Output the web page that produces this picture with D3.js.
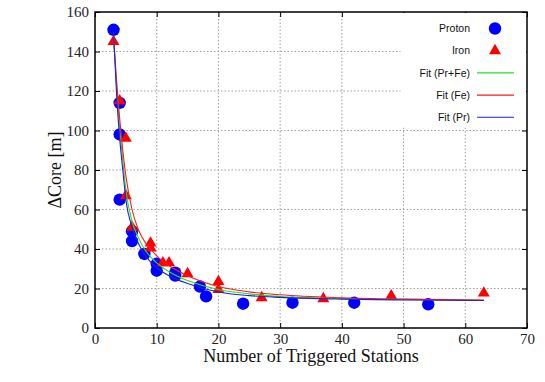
<!DOCTYPE html>
<html>
<head>
<meta charset="utf-8">
<script src="https://cdn.jsdelivr.net/npm/d3@7"></script>
<style>
  body { margin: 0; background: #fff; }
  svg { display: block; }
</style>
</head>
<body>
<div id="chart"></div>
<script>
// ---- data ----
var protonX = [3, 4, 4, 4, 6, 6, 8, 10, 10, 13, 13, 17, 18, 24, 32, 42, 54];
var protonY = [151, 114, 98, 65, 49, 44, 37.5, 32.5, 29, 28, 26.5, 21, 16, 12.3, 12.8, 12.8, 12];

var ironX = [3, 4, 5, 5, 6, 9, 9, 11, 12, 15, 20, 20, 27, 37, 48, 63];
var ironY = [145, 115, 96, 67, 51, 43, 40.5, 33, 33, 27.5, 23.5, 19.5, 15.3, 14.8, 16.3, 17.7];

// fit curves
var fitX   = [3, 3.5, 4, 4.5, 5, 6, 7, 8, 9, 10, 12, 15, 20, 25, 30, 40, 50, 63];
var fitAll = [148, 122, 101, 85, 70, 54, 46, 40, 36, 33, 28.5, 24, 19.5, 17.3, 15.9, 15, 14.5, 14.0];
var fitFe  = [147, 125, 106, 90, 77, 60, 50, 44, 40, 36.5, 31.5, 26.5, 21, 18.3, 16.8, 15.3, 14.6, 14.1];
var fitPr  = [150, 118, 96, 80, 65, 51, 43, 37.5, 33.5, 30.5, 26.5, 22.5, 18.2, 16.4, 15.5, 14.6, 14.2, 13.9];

var xTicks = [0, 10, 20, 30, 40, 50, 60, 70];
var yTicks = [0, 20, 40, 60, 80, 100, 120, 140, 160];

var legendLabels = ["Proton", "Iron", "Fit (Pr+Fe)", "Fit (Fe)", "Fit (Pr)"];

// ---- layout ----
var width = 545, height = 382;
var margin = {top: 12, right: 18, bottom: 54, left: 95};
var w = width - margin.left - margin.right;
var h = height - margin.top - margin.bottom;

var svg = d3.select("#chart").append("svg")
    .attr("width", width)
    .attr("height", height);

var g = svg.append("g")
    .attr("transform", "translate(" + margin.left + "," + margin.top + ")");

var x = d3.scaleLinear().domain([0, 70]).range([0, w]);
var y = d3.scaleLinear().domain([0, 160]).range([h, 0]);

svg.append("defs").append("clipPath").attr("id", "plotclip")
  .append("rect").attr("width", w).attr("height", h);

// grid
g.append("g").selectAll("line").data(xTicks.slice(1, -1)).enter().append("line")
    .attr("x1", function(d) { return x(d); })
    .attr("x2", function(d) { return x(d); })
    .attr("y1", 0).attr("y2", h)
    .attr("stroke", "#a0a0a0").attr("stroke-dasharray", "1.5,2").attr("stroke-width", 1);
g.append("g").selectAll("line").data(yTicks.slice(1, -1)).enter().append("line")
    .attr("y1", function(d) { return y(d); })
    .attr("y2", function(d) { return y(d); })
    .attr("x1", 0).attr("x2", w)
    .attr("stroke", "#a0a0a0").attr("stroke-dasharray", "1.5,2").attr("stroke-width", 1);

// axes (ticks pointing inward, mirrored)
var serif = "'Liberation Serif', 'DejaVu Serif', serif";

var xAxis = g.append("g").attr("transform", "translate(0," + h + ")")
    .call(d3.axisBottom(x).tickValues(xTicks).tickSizeInner(-5).tickSizeOuter(0).tickPadding(5));
var yAxis = g.append("g")
    .call(d3.axisLeft(y).tickValues(yTicks).tickSizeInner(-5).tickSizeOuter(0).tickPadding(6));
g.append("g").attr("class", "mirror")
    .call(d3.axisTop(x).tickValues(xTicks).tickSizeInner(-5).tickSizeOuter(0).tickFormat(""));
g.append("g").attr("class", "mirror").attr("transform", "translate(" + w + ",0)")
    .call(d3.axisRight(y).tickValues(yTicks).tickSizeInner(-5).tickSizeOuter(0).tickFormat(""));

g.selectAll(".domain").remove();
g.selectAll(".tick line").attr("stroke", "#000").attr("stroke-width", 1);
g.selectAll(".tick text").attr("font-family", serif).attr("font-size", 15).attr("fill", "#222");

// legend backdrop hides the grid behind the key
g.append("rect")
    .attr("x", x(49.5)).attr("y", 1)
    .attr("width", w - x(49.5) - 1).attr("height", y(101.5) - 1)
    .attr("fill", "#fff");

// data points
var pts = g.append("g").attr("clip-path", "url(#plotclip)");
var tri = d3.symbol().type(d3.symbolTriangle).size(62);

pts.selectAll("circle.pr").data(protonX).enter().append("circle")
    .attr("class", "pr")
    .attr("cx", function(d) { return x(d); })
    .attr("cy", function(d, i) { return y(protonY[i]); })
    .attr("r", 6.2)
    .attr("fill", "#0000ff");

pts.selectAll("path.fe").data(ironX).enter().append("path")
    .attr("class", "fe")
    .attr("d", tri)
    .attr("transform", function(d, i) { return "translate(" + x(d) + "," + y(ironY[i]) + ")"; })
    .attr("fill", "#ff0000");

// fit curves
var line = d3.line()
    .x(function(d) { return x(d[0]); })
    .y(function(d) { return y(d[1]); })
    .curve(d3.curveMonotoneX);

var fits = [
  {vals: fitAll, color: "#22e022"},
  {vals: fitFe,  color: "#ff1a1a"},
  {vals: fitPr,  color: "#2020e0"}
];
fits.forEach(function(f) {
  pts.append("path")
      .datum(fitX.map(function(v, i) { return [v, f.vals[i]]; }))
      .attr("d", line)
      .attr("fill", "none")
      .attr("stroke", f.color)
      .attr("stroke-width", 1.1);
});

// frame
g.append("rect").attr("width", w).attr("height", h)
    .attr("fill", "none").attr("stroke", "#000").attr("stroke-width", 1.5);

// legend
var lg = g.append("g").attr("transform", "translate(" + (470 - margin.left) + "," + (28.5 - margin.top) + ")");
legendLabels.forEach(function(lab, i) {
  var row = lg.append("g").attr("transform", "translate(0," + (i * 22.2) + ")");
  row.append("text")
      .attr("text-anchor", "end")
      .attr("dy", "0.36em")
      .attr("font-family", "'Liberation Sans', Arial, sans-serif")
      .attr("font-size", 10.5)
      .attr("fill", "#111")
      .text(lab);
  if (i === 0) {
    row.append("circle").attr("cx", 25).attr("cy", 0).attr("r", 6.2).attr("fill", "#0000ff");
  } else if (i === 1) {
    row.append("path").attr("d", tri).attr("transform", "translate(25,0)").attr("fill", "#ff0000");
  } else {
    row.append("line").attr("x1", 7).attr("x2", 44).attr("y1", 0).attr("y2", 0)
        .attr("stroke", fits[i - 2].color).attr("stroke-width", 1.1);
  }
});

// axis titles
svg.append("text")
    .attr("x", margin.left + w / 2).attr("y", 362)
    .attr("text-anchor", "middle")
    .attr("font-family", serif).attr("font-size", 18).attr("fill", "#111")
    .text("Number of Triggered Stations");

svg.append("text")
    .attr("transform", "translate(61," + (margin.top + h / 2) + ") rotate(-90)")
    .attr("text-anchor", "middle")
    .attr("font-family", serif).attr("font-size", 18).attr("fill", "#111")
    .text("ΔCore [m]");
</script>
</body>
</html>
